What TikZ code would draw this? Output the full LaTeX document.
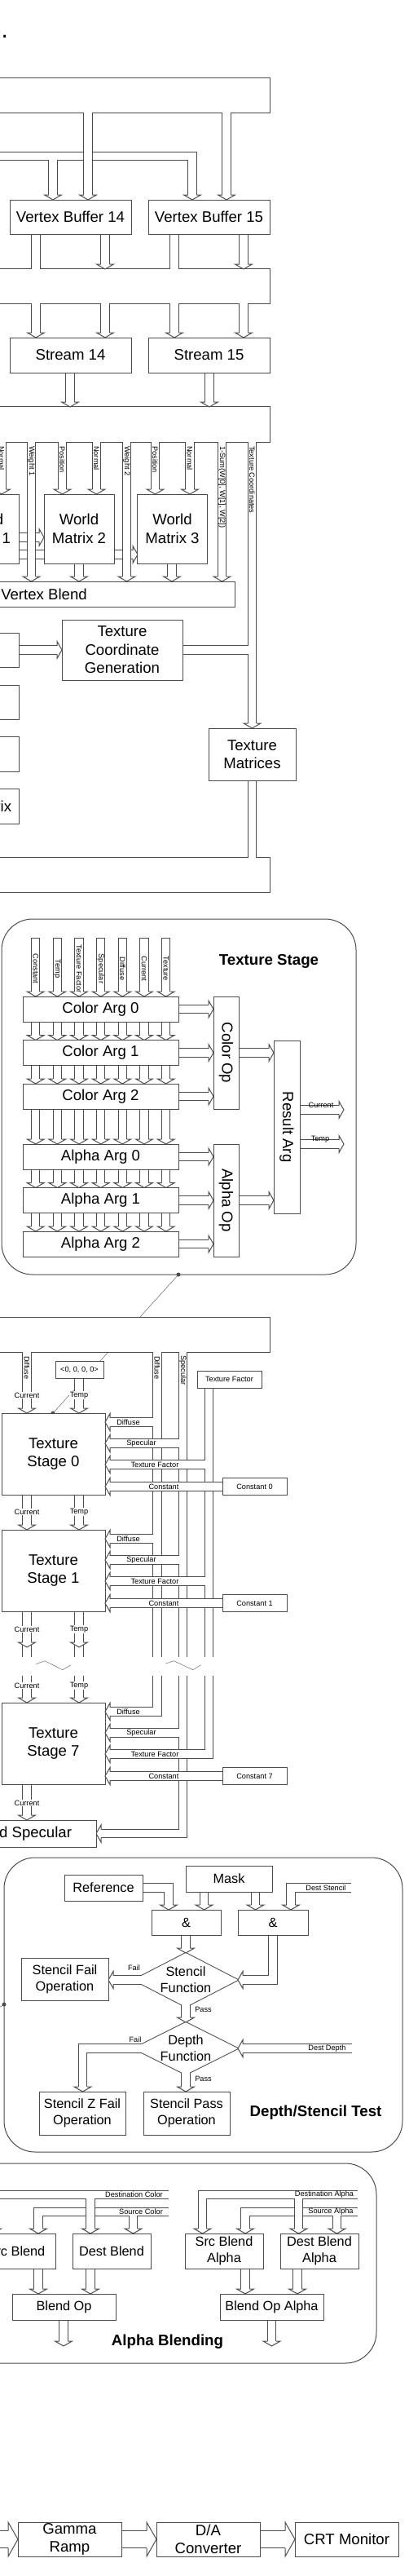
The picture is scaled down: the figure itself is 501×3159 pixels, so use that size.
\documentclass[tikz,border=0pt]{standalone}
\usepackage{fontspec}
\setmainfont{Liberation Sans}
\definecolor{linecol}{gray}{0.3}
\newcommand{\fbig}{\fontsize{18.6}{22.5}\selectfont}
\newcommand{\fmid}{\fontsize{16.3}{19.8}\selectfont}
\newcommand{\fsmall}{\fontsize{9.2}{11}\selectfont}
\newcommand{\ftitle}{\fontsize{18.7}{22}\selectfont\bfseries}
\pgfdeclarelayer{lo1}\pgfdeclarelayer{li1}
\pgfdeclarelayer{lo2}\pgfdeclarelayer{li2}
\pgfdeclarelayer{lo3}\pgfdeclarelayer{li3}
\pgfdeclarelayer{lo4}\pgfdeclarelayer{li4}
\pgfsetlayers{lo1,li1,lo2,li2,lo3,li3,lo4,li4,main}
\tikzset{
	busout/.style={line width=11.5pt,draw=linecol,line join=miter},
	busin/.style={line width=9.5pt,draw=white,line join=miter},
	bigout/.style={line width=22pt,draw=linecol},
	bigin/.style={line width=20pt,draw=white},
	box/.style={draw=linecol,fill=white,line width=1pt,inner sep=0pt,align=center,font=\fbig},
	mbox/.style={box,font=\fmid},
	sbox/.style={box,font=\fsmall},
	lbl/.style={font=\fsmall,inner sep=0pt},
	tag/.style={font=\fsmall,fill=white,inner sep=1pt},
	panel/.style={draw=linecol,line width=1pt,rounded corners=38pt},
	hd/.pic={\filldraw[fill=white,draw=linecol,line width=1pt,line join=miter]
		(-5.25,-6)--(-10.5,-6)--(0,0)--(10.5,-6)--(5.25,-6);}
}
% hollow bus: outline on one layer, white core on the next
\newcommand{\busline}[2][2]{%
	\begin{pgfonlayer}{lo#1}\draw[busout] #2;\end{pgfonlayer}%
	\begin{pgfonlayer}{li#1}\draw[busin] #2;\end{pgfonlayer}}
\newcommand{\busarea}[2][1]{%
	\begin{pgfonlayer}{lo#1}\draw[linecol,line width=2pt,line join=miter] #2;\end{pgfonlayer}%
	\begin{pgfonlayer}{li#1}\fill[white] #2;\end{pgfonlayer}}
\begin{document}
\begin{tikzpicture}[x=1pt,y=-1pt,line width=1pt]
	\useasboundingbox (0,0) rectangle (501,3159);
	\node[anchor=base east,inner sep=0pt,font=\fontsize{30}{30}\selectfont] (title) at (10.5,46) {Pipeline.};
	% vertex buffers and streams
	\busarea{(-20,96) rectangle (331,138)}
	\busline[1]{(-20,191.5)--(236,191.5)--(236,240)}
	\busline[1]{(65,191.5)--(65,240)}
	\busline{(108,138)--(108,240)}
	\busline{(278,138)--(278,240)}
	\foreach \x in {65,108,236,278} \pic at (\x,245) {hd};
	\node[box,minimum width=149pt,minimum height=42pt] (vb14) at (86.5,266) {Vertex Buffer 14};
	\node[box,minimum width=149pt,minimum height=42pt] (vb15) at (256.5,266) {Vertex Buffer 15};
	\busarea{(-20,330) rectangle (331,372)}
	\foreach \x in {44,214} {\busline{(\x,287)--(\x,330)}}
	\foreach \x in {129,299} {\busline{(\x,287)--(\x,325)} \pic at (\x,330) {hd};}
	\foreach \x in {44,129,214,299} {\busline{(\x,372)--(\x,409)} \pic at (\x,414) {hd};}
	\node[box,minimum width=149pt,minimum height=43pt] (st14) at (86.5,435.5) {Stream 14};
	\node[box,minimum width=149pt,minimum height=43pt] (st15) at (256.5,435.5) {Stream 15};
	\foreach \x in {86,257} {\busline{(\x,457)--(\x,494)} \pic at (\x,499) {hd};}
	\busarea{(-20,499) rectangle (331,542)}
	% vertex blending
	\busline[1]{(-80,659)--(49,659)}
	\pic[rotate=90] at (54,659) {hd};
	\busline[1]{(-80,680)--(164,680)}
	\pic[rotate=90] at (169,680) {hd};
	\foreach \x/\y in {2/606,38.5/713,76.5/606,118.5/606,155.5/713,190.5/606,233/606,272.5/713}
		{\busline{(\x,542)--(\x,\y-5)} \pic at (\x,\y) {hd};}
	\busline{(309.5,542)--(309.5,888)}
	\pic at (309.5,893) {hd};
	\foreach \x/\t in {2/Normal,38.5/Weight 1,76.5/Position,118.5/Normal,155.5/Weight 2,190.5/Position,233/Normal,272.5/{1-Sum(W[0], W[1], W[2])},309.5/Texture Coordinates}
		\node[lbl,rotate=-90,anchor=west] at (\x,547) {\t};
	\node[box,minimum width=86pt,minimum height=85pt] (wm1) at (-20,648.5) {World\\Matrix 1};
	\node[box,minimum width=86pt,minimum height=85pt] (wm2) at (97,648.5) {World\\Matrix 2};
	\node[box,minimum width=86pt,minimum height=85pt] (wm3) at (211.5,648.5) {World\\Matrix 3};
	\foreach \x in {-20,97,211} {\busline{(\x,691)--(\x,708)} \pic at (\x,713) {hd};}
	\node[box,minimum width=468pt,minimum height=31pt] (vblend) at (54,728.5) {Vertex Blend};
	% texture coordinates
	\foreach \n/\y/\h in {a/797/42,b/861/42,c/924.5/43}
		\node[box,minimum width=113.6pt,minimum height=\h] (left\n) at (-33.8,\y) {};
	\node[box,minimum width=113.6pt,minimum height=43pt] (leftd) at (-33.8,988.5) {View Matrix};
	\busline{(23,797)--(71,797)}
	\pic[rotate=90] at (76,797) {hd};
	\node[box,minimum width=148pt,minimum height=74pt] (tcg) at (150,797) {Texture\\Coordinate\\Generation};
	\busline{(224,797)--(309.5,797)}
	\node[box,minimum width=107pt,minimum height=64pt] (texmat) at (309.5,925) {Texture\\Matrices};
	\busline{(309.5,957)--(309.5,1052)}
	\busarea{(-20,1052) rectangle (331,1094)}
	% texture stage detail
	\draw[panel] (2,1127) rectangle (437,1563);
	\node[font=\ftitle] (tstitle) at (330,1179) {Texture Stage};
	\foreach \x/\t in {43.7/Constant,70.3/Temp,97/Texture Factor,123.7/Specular,150.3/Diffuse,177/Current,203.7/Texture}{
		\busline{(\x,1150)--(\x,1217)}
		\draw[linecol] (\x-5.75,1150)--(\x+5.75,1150);
		\pic at (\x,1222) {hd};
		\node[lbl,rotate=-90] at (\x,1188) {\t};
		\foreach \ya/\yb in {1253/1275.5,1306.5/1329,1360/1403,1434/1456.5,1487.5/1510}
			{\busline{(\x,\ya)--(\x,\yb-5)} \pic at (\x,\yb) {hd};}
	}
	\foreach \n/\t/\y in {ca0/Color Arg 0/1237.5,ca1/Color Arg 1/1291,ca2/Color Arg 2/1344.5,aa0/Alpha Arg 0/1418.5,aa1/Alpha Arg 1/1472,aa2/Alpha Arg 2/1525.5}{
		\node[box,minimum width=191pt,minimum height=31pt] (\n) at (123.5,\y) {\t};
		\busline{(219,\y)--(257,\y)}
		\pic[rotate=90] at (262,\y) {hd};
	}
	\node[box,rotate=-90,minimum width=138pt,minimum height=31pt] (colop) at (277.5,1291) {Color Op};
	\node[box,rotate=-90,minimum width=138pt,minimum height=31pt] (alpop) at (277.5,1472) {Alpha Op};
	\node[box,rotate=-90,minimum width=212pt,minimum height=32pt] (resarg) at (352,1382) {Result Arg};
	\foreach \y in {1291,1472} {\busline{(293,\y)--(331,\y)} \pic[rotate=90] at (336,\y) {hd};}
	\foreach \y in {1361,1403} {\busline{(368,\y)--(417,\y)} \pic[rotate=90] at (422,\y) {hd};}
	\node[lbl] at (394,1355.5) {Current};
	\node[lbl] at (393,1397.5) {Temp};
	\begin{pgfonlayer}{lo1}
		\draw[linecol] (65,1733)--(219,1563);
	\end{pgfonlayer}
	\fill[linecol] (65,1733) circle (2.5pt) (219,1563) circle (2.5pt);
	% texture stages
	\busarea{(-20,1616) rectangle (331,1658)}
	\busline[1]{(33,1658)--(33,1728)}
	\pic at (33,1733) {hd};
	\node[lbl,rotate=-90,anchor=west] at (33,1663) {Diffuse};
	\node[tag] at (33,1711) {Current};
	\node[sbox,minimum width=59pt,minimum height=21pt] (zero) at (97.5,1679.5) {<0, 0, 0, 0>};
	\busline{(97,1690)--(97,1728)}
	\pic at (97,1733) {hd};
	\node[tag] at (97,1711) {Temp};
	\busline[1]{(193,1658)--(193,2032)}
	\busline[1]{(193,2055)--(193,2099)--(134,2099)}
	\busline{(224.5,1658)--(224.5,2032)}
	\busline{(224.5,2055)--(224.5,2248.5)--(123,2248.5)}
	\node[lbl,rotate=-90,anchor=west] at (193,1663) {Diffuse};
	\node[lbl,rotate=-90,anchor=west] at (224.5,1662) {Specular};
	\node[sbox,minimum width=79pt,minimum height=21pt] (tfac) at (281.5,1691.5) {Texture Factor};
	\busline[3]{(256.5,1702)--(256.5,2032)}
	\busline[3]{(256.5,2055)--(256.5,2151)--(134,2151)}
	\foreach \s/\T in {0/1733,1/1876,7/2088}{
		\node[box,minimum width=127pt,minimum height=100pt] (ts\s) at (65.5,\T+50) {Texture\\Stage \s};
		\node[sbox,minimum width=79pt,minimum height=21pt] (const\s) at (312.5,\T+90) {Constant \s};
		\busline[4]{(273,\T+90)--(134,\T+90)}
		\foreach \d in {11,37,63,90} \pic[rotate=-90] at (129,\T+\d) {hd};
		\node[lbl] at (157.5,\T+11) {Diffuse};
		\node[lbl] at (173.5,\T+37) {Specular};
		\node[lbl] at (190,\T+63) {Texture Factor};
		\node[lbl] at (201,\T+90) {Constant};
	}
	\foreach \T in {1733,1876}{
		\busline[1]{(193,\T+11)--(134,\T+11)}
		\busline{(224.5,\T+37)--(134,\T+37)}
		\busline[3]{(256.5,\T+63)--(134,\T+63)}
	}
	\busline{(224.5,2125)--(134,2125)}
	\foreach \x/\t in {33/Current,97/Temp}{
		\busline{(\x,1833)--(\x,1871)} \pic at (\x,1876) {hd};
		\node[tag] at (\x,1854) {\t};
		\busline{(\x,1976)--(\x,2015)} \pic at (\x,2020) {hd};
		\busline{(\x,2017)--(\x,2032)}
		\node[tag] at (\x,1998) {\t};
		\busline{(\x,2055)--(\x,2083)} \pic at (\x,2088) {hd};
		\node[tag] at (\x,2067) {\t};
	}
	\draw[linecol] (44.3,2040.7)--(55,2036.7)--(76.7,2047.7)--(87.3,2041.7);
	\draw[linecol] (203.3,2040)--(213.3,2036.7)--(236.7,2047.7)--(246.7,2041.7);
	\busline{(33,2188)--(33,2227)}
	\pic at (33,2232) {hd};
	\node[tag] at (33,2211) {Current};
	\pic[rotate=-90] at (118,2248.5) {hd};
	\node[box,minimum width=171.6pt,minimum height=33pt] (addspec) at (32.2,2248.5) {Add Specular};
	% depth / stencil test
	\draw[panel] (5,2278) rectangle (494,2639);
	\fill[linecol] (5,2458) circle (2.5pt);
	\draw[linecol] (5,2458)--(-20,2474);
	\node[mbox,minimum width=96pt,minimum height=32pt] (ref) at (127,2315) {Reference};
	\node[mbox,minimum width=106pt,minimum height=32pt] (mask) at (281,2304) {Mask};
	\node[mbox,minimum width=85pt,minimum height=31pt] (andl) at (228.5,2357.5) {\&};
	\node[mbox,minimum width=86pt,minimum height=31pt] (andr) at (335,2357.5) {\&};
	\busline{(175,2315)--(207,2315)--(207,2337)}
	\busline{(431,2315)--(357,2315)--(357,2337)}
	\busline{(250.5,2320)--(250.5,2337)}
	\busline{(313.5,2320)--(313.5,2337)}
	\foreach \x in {207,250.5,313.5,357} \pic at (\x,2342) {hd};
	\node[lbl] at (400,2315) {Dest Stencil};
	\busarea[2]{(228,2395)--(292,2428)--(228,2461)--(164,2428)--cycle}
	\node[font=\fmid,align=center,inner sep=0pt] (sfunc) at (228,2428) {Stencil\\Function};
	\busline{(228,2373)--(228,2390)}
	\pic at (228,2395) {hd};
	\busline{(335,2373)--(335,2428)--(297,2428)}
	\pic[rotate=-90] at (292,2428) {hd};
	\busline{(177,2428)--(138,2428)}
	\pic[rotate=-90] at (133,2428) {hd};
	\node[lbl] at (164.5,2413) {Fail};
	\node[mbox,minimum width=107pt,minimum height=52pt] (sfail) at (79.5,2427) {Stencil Fail\\Operation};
	\busline{(228,2457)--(228,2475)}
	\pic at (228,2480) {hd};
	\node[lbl] at (249.5,2464) {Pass};
	\busarea[2]{(228,2480)--(292,2512)--(228,2544)--(164,2512)--cycle}
	\node[font=\fmid,align=center,inner sep=0pt] (dfunc) at (228,2512) {Depth\\Function};
	\busline{(177,2512)--(101.5,2512)--(101.5,2560)}
	\pic at (101.5,2565) {hd};
	\node[lbl] at (166,2501) {Fail};
	\busline{(228,2541)--(228,2560)}
	\pic at (228,2565) {hd};
	\node[lbl] at (249.5,2549) {Pass};
	\busline{(432,2512)--(297,2512)}
	\pic[rotate=-90] at (292,2512) {hd};
	\node[lbl] at (401.5,2512) {Dest Depth};
	\node[mbox,minimum width=106pt,minimum height=53pt] (szfail) at (101,2591.5) {Stencil Z Fail\\Operation};
	\node[mbox,minimum width=106pt,minimum height=53pt] (spass) at (229,2591.5) {Stencil Pass\\Operation};
	\node[font=\ftitle] (dstitle) at (387.5,2591) {Depth/Stencil Test};
	% alpha blending
	\draw[panel] (-60,2653) rectangle (462,2898);
	\busline[1]{(207,2712.5)--(47,2712.5)--(47,2734)}
	\busline[1]{(163.5,2712.5)--(163.5,2734)}
	\busline{(207,2691.5)--(-9,2691.5)--(-9,2734)}
	\busline{(111,2691.5)--(111,2734)}
	\busline[1]{(439,2712.5)--(301,2712.5)--(301,2734)}
	\busline[1]{(413.5,2712.5)--(413.5,2734)}
	\busline{(439,2691.5)--(248.5,2691.5)--(248.5,2734)}
	\busline{(366.5,2691.5)--(366.5,2734)}
	\foreach \x in {-9,47,111,163.5,248.5,301,366.5,413.5} \pic at (\x,2739) {hd};
	\node[lbl] at (164.5,2691.5) {Destination Color};
	\node[lbl] at (173,2712.5) {Source Color};
	\node[lbl] at (398,2691.5) {Destination Alpha};
	\node[lbl] at (406,2712.5) {Source Alpha};
	\node[mbox,minimum width=96pt,minimum height=43pt] (srcb) at (20,2760.5) {Src Blend};
	\node[mbox,minimum width=96pt,minimum height=43pt] (dstb) at (137,2760.5) {Dest Blend};
	\node[mbox,minimum width=96pt,minimum height=43pt] (srcba) at (275,2760.5) {Src Blend\\Alpha};
	\node[mbox,minimum width=96pt,minimum height=43pt] (dstba) at (392,2760.5) {Dest Blend\\Alpha};
	\foreach \x in {47,111,301,365} {\busline{(\x,2782)--(\x,2808)} \pic at (\x,2813) {hd};}
	\node[mbox,minimum width=127pt,minimum height=32pt] (bop) at (78.5,2829) {Blend Op};
	\node[mbox,minimum width=127pt,minimum height=32pt] (bopa) at (333.5,2829) {Blend Op Alpha};
	\foreach \x in {78,333.5} {\busline{(\x,2845)--(\x,2872)} \pic at (\x,2877) {hd};}
	\node[font=\ftitle] (abtitle) at (205.5,2872) {Alpha Blending};
	% output
	\foreach \a/\b in {-20/22,149/192,319/362}{
		\draw[bigout] (\a,3114)--(\b-11,3114);
		\draw[bigin] (\a,3114)--(\b-11,3114);
		\pic[rotate=90,scale=2] at (\b,3114) {hd};
	}
	\node[box,minimum width=127pt,minimum height=42pt] (gamma) at (85.5,3114) {Gamma\\Ramp};
	\node[box,minimum width=127pt,minimum height=42pt] (dac) at (255.5,3114) {D/A\\Converter};
	\node[box,minimum width=127pt,minimum height=42pt] (crt) at (425.5,3114) {CRT Monitor};
\end{tikzpicture}
\end{document}
